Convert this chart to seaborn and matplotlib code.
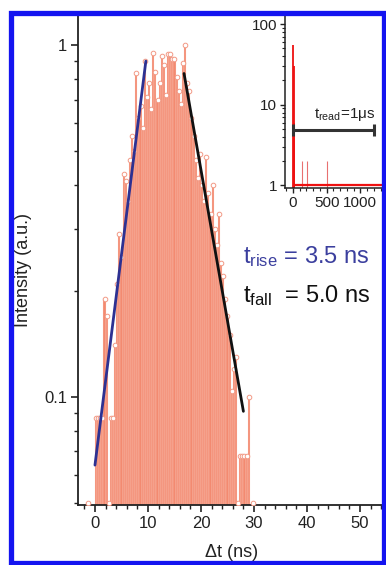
import numpy as np
import pandas as pd
import matplotlib
matplotlib.use("Agg")
import matplotlib.pyplot as plt
import seaborn as sns
from matplotlib.patches import Rectangle
from matplotlib.ticker import LogLocator, FixedLocator, NullFormatter, FuncFormatter, MultipleLocator

# histogram of delay times (0.4 ns bins, normalised); 0.05 = empty bin drawn on the axis
dt_ns = [-1.4, 0.2, 0.6, 1.0, 1.4, 1.8, 2.2, 2.6, 3.0, 3.4, 3.8, 4.2, 4.6, 5.0, 5.4,
         5.8, 6.2, 6.6, 7.0, 7.4, 7.8, 8.2, 8.6, 9.0, 9.4, 9.8, 10.2, 10.6, 11.0, 11.4,
         11.8, 12.2, 12.6, 13.0, 13.4, 13.8, 14.2, 14.6, 15.0, 15.4, 15.8, 16.2, 16.6,
         17.0, 17.4, 17.8, 18.2, 18.6, 19.0, 19.4, 19.8, 20.2, 20.6, 21.0, 21.4, 21.8,
         22.2, 22.6, 23.0, 23.4, 23.8, 24.2, 24.6, 25.0, 25.4, 25.8, 26.2, 26.6, 27.0,
         27.4, 27.8, 28.2, 28.6, 29.0, 29.8]
intensity = [0.05, 0.087, 0.087, 0.087, 0.087, 0.19, 0.17, 0.05, 0.087, 0.087, 0.14, 0.21,
             0.29, 0.25, 0.43, 0.41, 0.36, 0.47, 0.55, 0.50, 0.83, 0.62, 0.67, 0.58, 0.90,
             0.71, 0.78, 0.66, 0.95, 0.84, 0.70, 0.78, 0.93, 0.88, 0.72, 0.94, 0.94, 0.91,
             0.91, 0.81, 0.74, 0.68, 0.89, 1.00, 0.78, 0.74, 0.62, 0.55, 0.47, 0.42, 0.49,
             0.40, 0.36, 0.48, 0.38, 0.33, 0.40, 0.30, 0.27, 0.33, 0.24, 0.22, 0.19, 0.17,
             0.15, 0.104, 0.12, 0.13, 0.05, 0.068, 0.068, 0.068, 0.068, 0.10, 0.05]

# exponential fits (end points)
rise_t = [0.0, 9.6]
rise_i = [0.064, 0.90]
fall_t = [16.8, 28.0]
fall_i = [0.83, 0.091]

# inset: long time range
inset_t = [6, 14, 22]
inset_counts = [55, 30, 6]
extra_t = [128, 204, 510]
extra_counts = [2.0, 2.0, 2.0]
background = 1.0
read_window = [0, 1210]
read_level = 4.9

df = pd.DataFrame({"dt": dt_ns, "I": intensity})

sns.set_theme(style="ticks")
plt.rcParams["font.family"] = ["Liberation Sans", "DejaVu Sans"]
plt.rcParams["mathtext.default"] = "regular"

bar_col = "#f38a70"
dark = "#222222"

fig = plt.figure(figsize=(3.86, 5.65), dpi=100)
ax = fig.add_axes([78 / 386, 60 / 565, 308 / 386, 492 / 565])

sns.histplot(data=df, x="dt", weights="I", binwidth=0.4, binrange=(-1.6, 30.0),
             color=bar_col, alpha=1, edgecolor="#fde6df", linewidth=0.2, ax=ax)
sns.scatterplot(data=df, x="dt", y="I", marker="o", s=11, color="white",
                edgecolor="#f29a86", linewidth=0.7, zorder=3, ax=ax)
sns.lineplot(x=rise_t, y=rise_i, color="#2d3192", lw=2.0, ax=ax, zorder=4)
sns.lineplot(x=fall_t, y=fall_i, color="#111111", lw=2.0, ax=ax, zorder=4)

ax.set_yscale("log")
ax.set_xlim(-3.2, 54.9)
ax.set_ylim(0.0493, 1.233)
ax.yaxis.set_major_locator(FixedLocator([0.1, 1]))
ax.yaxis.set_major_formatter(FuncFormatter(lambda v, p: "0.1" if v < 0.5 else "1"))
ax.yaxis.set_minor_locator(LogLocator(base=10, subs=np.arange(2, 10)))
ax.yaxis.set_minor_formatter(NullFormatter())
ax.xaxis.set_major_locator(MultipleLocator(10))
ax.xaxis.set_minor_locator(MultipleLocator(2))
ax.tick_params(which="major", direction="out", length=5, width=1.2, labelsize=12,
               color=dark, labelcolor=dark, pad=3)
ax.tick_params(which="minor", direction="out", length=3, width=1.0, color=dark)
for s in ax.spines.values():
    s.set_linewidth(1.3)
    s.set_color(dark)

ax.set_xlabel("Δt (ns)", fontsize=13, color=dark)
ax.set_ylabel("Intensity (a.u.)", fontsize=13, color=dark)
ax.xaxis.set_label_coords(0.497, -0.080)
ax.yaxis.set_label_coords(-0.150, 0.478)

fig.text(243 / 386, 1 - 263 / 565, "t$_{rise}$ = 3.5 ns", fontsize=17, color="#3b3f9e",
         va="baseline", ha="left")
fig.text(243 / 386, 1 - 302 / 565, "t$_{fall}$  = 5.0 ns", fontsize=17, color="#111111",
         va="baseline", ha="left")

# inset
ins = fig.add_axes([285 / 386, 1 - 188 / 565, 0.27, 175 / 565])
ins.vlines(inset_t, 0.5, inset_counts, color="#ee1111", lw=1.3)
ins.vlines(extra_t, 0.5, extra_counts, color="#e87070", lw=0.8)
ins.hlines(background, 0, 1500, color="#ee1111", lw=1.6)
ins.errorbar(read_window, [read_level, read_level], color="#333333", lw=2.2)
ins.vlines(read_window, read_level / 1.18, read_level * 1.18, color="#333333", lw=2.2)
ins.set_yscale("log")
ins.set_xlim(-118, 1429)
ins.set_ylim(0.93, 137)
ins.set_xticks([0, 500, 1000])
ins.xaxis.set_minor_locator(MultipleLocator(100))
ins.yaxis.set_major_locator(FixedLocator([1, 10, 100]))
ins.yaxis.set_major_formatter(FuncFormatter(lambda v, p: f"{v:g}"))
ins.yaxis.set_minor_locator(LogLocator(base=10, subs=np.arange(2, 10)))
ins.yaxis.set_minor_formatter(NullFormatter())
ins.tick_params(which="major", direction="out", length=3.5, width=1.0, labelsize=11,
                color=dark, labelcolor=dark, pad=2)
ins.tick_params(which="minor", direction="out", length=2, width=0.8, color=dark)
for s in ins.spines.values():
    s.set_linewidth(1.1)
    s.set_color(dark)
ins.text(310, 6.9, "t$_{read}$=1μs", fontsize=11, color=dark, ha="left", va="baseline")

# blue frame
fig.patches.append(Rectangle((10.5 / 386, 2 / 565), 373.5 / 386, 550.5 / 565,
                             transform=fig.transFigure, fill=False, ec="#1414f0",
                             lw=3.8, zorder=10))

fig.savefig("out.png", dpi=100)
